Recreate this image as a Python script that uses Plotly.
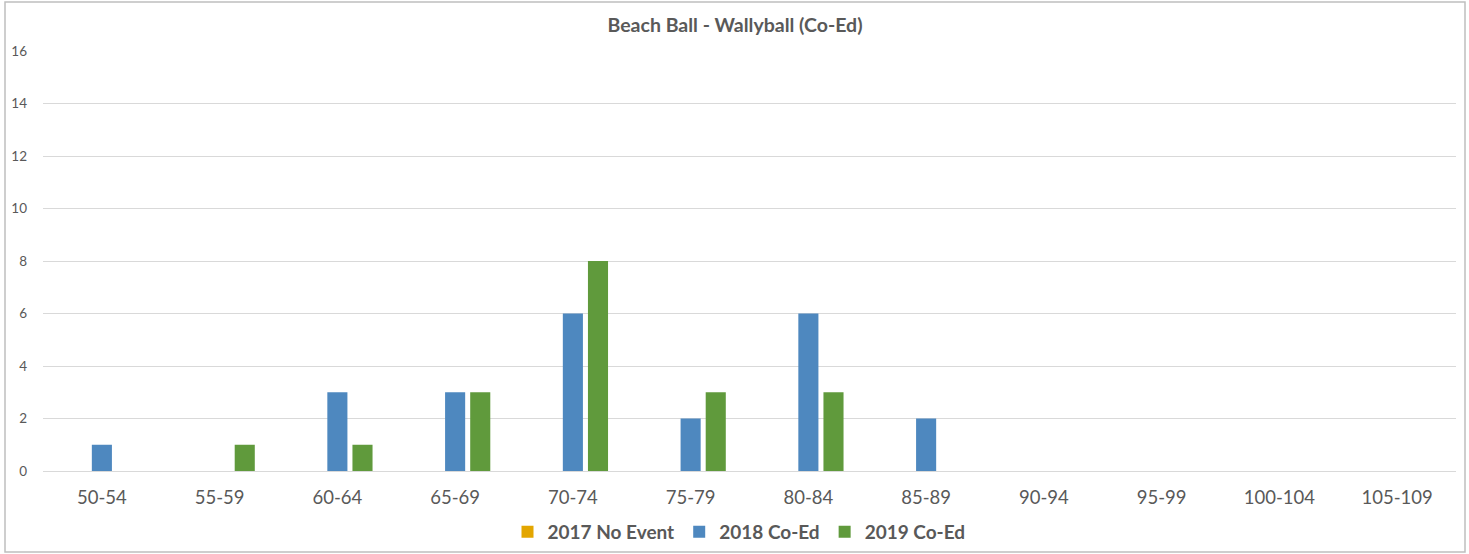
import plotly.graph_objects as go

categories = ["50-54", "55-59", "60-64", "65-69", "70-74", "75-79", "80-84",
              "85-89", "90-94", "95-99", "100-104", "105-109"]
s2017 = [0, 0, 0, 0, 0, 0, 0, 0, 0, 0, 0, 0]
s2018 = [1, 0, 3, 3, 6, 2, 6, 2, 0, 0, 0, 0]
s2019 = [0, 1, 1, 3, 8, 3, 3, 0, 0, 0, 0, 0]
names = ["2017 No Event", "2018 Co-Ed", "2019 Co-Ed"]
colors = ["#E3A600", "#4E88BF", "#609A3C"]

FONT = "Lato, 'Open Sans', sans-serif"
fig = go.Figure()
for n, vals, c in zip(names, [s2017, s2018, s2019], colors):
    fig.add_trace(go.Bar(x=categories, y=vals, name=n,
                         marker=dict(color=c, line=dict(width=0))))

W, H = 1469, 554
ml, mr, mt, mb = 43, 13, 51, 83
pw, ph = W - ml - mr, H - mt - mb

def px_x(p):
    return (p - ml) / pw

def px_y(p):
    return (H - mb - p) / ph

fig.update_layout(
    width=W, height=H,
    margin=dict(l=ml, r=mr, t=mt, b=mb, autoexpand=False),
    paper_bgcolor="white", plot_bgcolor="white",
    barmode="group", bargap=0.36, bargroupgap=0.2,
    font=dict(family=FONT, color="#595959"),
    title=dict(text="<b>Beach Ball - Wallyball (Co-Ed)</b>", x=735 / W, xanchor="center",
               y=1 - 25 / H, yanchor="middle", yref="container",
               font=dict(size=19.5, color="#595959", family=FONT)),
    legend=dict(orientation="h", x=px_x(739), xanchor="center", y=px_y(532), yanchor="middle",
                font=dict(size=19, color="#595959", family=FONT, weight="bold"),
                itemwidth=30, traceorder="normal", bgcolor="rgba(0,0,0,0)"),
    xaxis=dict(showgrid=False, showline=True, linecolor="#D9D9D9", linewidth=1,
               ticks="", tickfont=dict(size=18.5, color="#595959"), ticklabelstandoff=10,
               fixedrange=True),
    yaxis=dict(range=[0, 16], dtick=2, tick0=0, showgrid=True, gridcolor="#D9D9D9",
               gridwidth=1, zeroline=False, showline=False, ticks="",
               tickfont=dict(size=13.5, color="#595959"), ticklabelstandoff=15,
               fixedrange=True),
    shapes=[dict(type="rect", xref="paper", yref="paper",
                 x0=px_x(5), x1=px_x(1465), y0=px_y(552), y1=px_y(2),
                 line=dict(color="#BFBFBF", width=1.5), layer="below")],
)

fig.write_html("out.html", config={"displayModeBar": False},
               post_script="document.body.style.margin='0';document.body.style.overflow='hidden';")
